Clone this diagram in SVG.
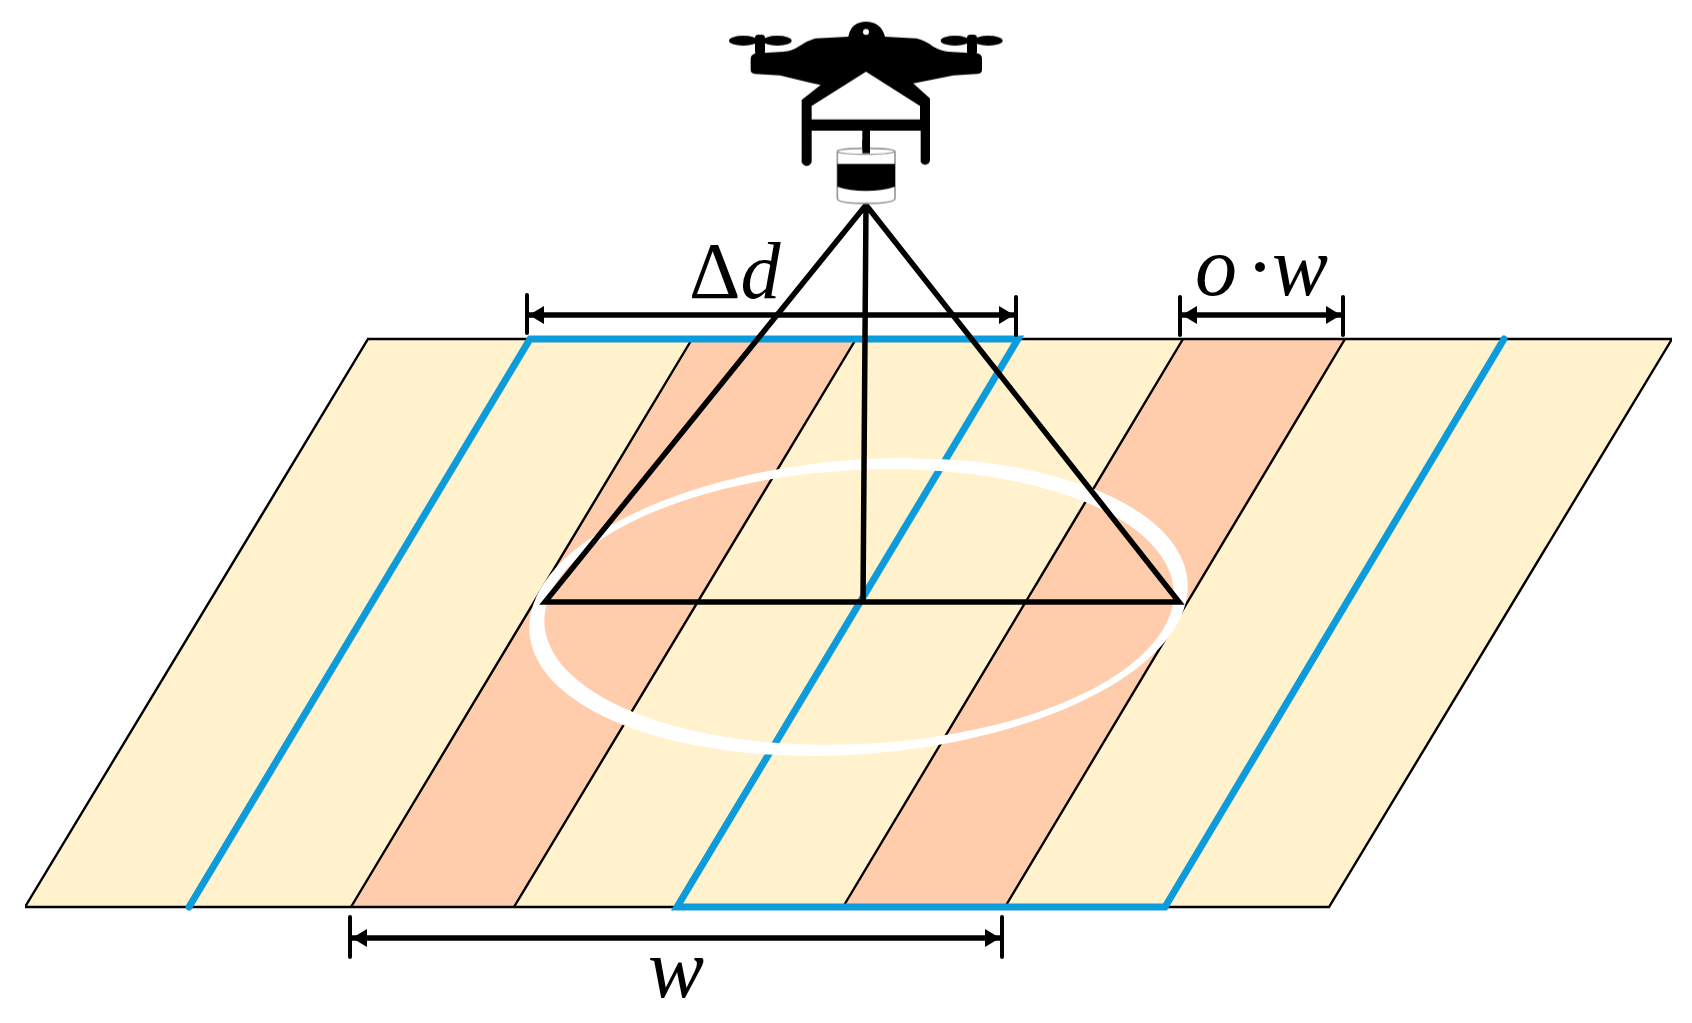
<svg xmlns="http://www.w3.org/2000/svg" width="1692" height="1023" viewBox="0 0 1692 1023">
<style>
.band{fill:#FFCDAC;stroke:none}
.thin{stroke:#000;stroke-width:2.4;fill:none}
.blue{stroke:#119CDB;stroke-width:7;fill:none;stroke-linecap:round;stroke-linejoin:miter}
.tri{stroke:#000;stroke-width:5.5;fill:none;stroke-linejoin:miter;stroke-linecap:round}
.dim{stroke:#000;stroke-width:5.5;fill:none}
.tick{stroke:#000;stroke-width:4;fill:none;stroke-linecap:round}
.lbl{font-family:"Liberation Serif","Times New Roman",serif;font-size:80px;fill:#000}
.big{font-size:84px}
</style>
<defs>
<marker id="a" markerUnits="userSpaceOnUse" markerWidth="16" markerHeight="20" refX="15" refY="10" orient="auto-start-reverse"><path d="M0 1L15 10L0 19Z" fill="#000"/></marker>
<filter id="soft" x="0" y="0" width="100%" height="100%"><feGaussianBlur stdDeviation="0.6"/></filter>
</defs>
<rect width="1692" height="1023" fill="#fff"/>
<g filter="url(#soft)">
<g id="ground">
<polygon points="368,339 1672,339 1329,907 25,907" fill="#FFF2CC"/>
<polygon class="band" points="692,339 856,339 514,907 351,907"/>
<polygon class="band" points="1183,339 1345,339 1005,907 843,907"/>
<path class="thin" d="M692 339L351 907M856 339L514 907M1183 339L843 907M1345 339L1005 907"/>
<polygon class="thin" points="368,339 1672,339 1329,907 25,907"/>
<path class="blue" d="M189 907L530 339H1018L677 907H1165L1504 339"/>
</g>
<g id="footprint">
<path fill="#fff" fill-rule="evenodd" d="M529.5 632.9A330 147 -4.5 1 1 1187.5 581.1A330 147 -4.5 1 1 529.5 632.9ZM544.4 623.5A315 137 -3 1 1 1173.6 590.5A315 137 -3 1 1 544.4 623.5Z"/>
</g>
<g id="beam">
<path class="tri" d="M866 205L545 602H1179ZM866 205L863 602"/>
</g>
<g id="drone" transform="translate(700 0) scale(.33333)">
<path fill="#000" d="M152 175Q152 165 165 160L250 155Q275 153 295 140Q320 122 345 115L445 110C450 80 470 65 498 65C526 65 548 80 555 110L650 115Q675 120 700 140Q725 153 745 155L835 160Q846 165 846 175V210Q846 222 830 222L760 226L640 250L690 295V478A15 15 0 0 1 662 486V392H510V450H487V392H335V486A15 15 0 0 1 305 478V300L362 255L330 248L240 226L165 222Q152 220 152 210Z"/>
<path fill="#fff" d="M498 215L660 318V358H335V318Z"/>
<circle cx="498" cy="96" r="9" fill="#fff"/>
<ellipse cx="130" cy="122" rx="43" ry="15" fill="#000"/><ellipse cx="232" cy="122" rx="43" ry="15" fill="#000"/>
<ellipse cx="765" cy="122" rx="43" ry="15" fill="#000"/><ellipse cx="865" cy="122" rx="43" ry="15" fill="#000"/>
<rect x="165" y="104" width="30" height="60" rx="10" fill="#000"/><rect x="801" y="104" width="30" height="60" rx="10" fill="#000"/>
<path fill="#fff" stroke="#999" stroke-width="5" d="M412 455Q412 445 498 445Q585 445 585 455V595Q585 610 498 610Q412 610 412 595Z"/>
<path fill="none" stroke="#999" stroke-width="4" d="M412 455Q430 463 498 463Q565 463 585 455"/>
<path fill="#000" d="M412 492H585V560Q545 573 498 573Q450 573 412 560Z"/>
<rect x="487" y="420" width="23" height="40" fill="#000"/>
</g>
<g id="dimensions">
<path class="tick" d="M527 295V333M1016 297V335M1180 297V335M1343 297V335M350 917V957M1002 917V957"/>
<path class="dim" marker-start="url(#a)" marker-end="url(#a)" d="M529 315H1014"/>
<path class="dim" marker-start="url(#a)" marker-end="url(#a)" d="M1182 315H1341"/>
<path class="dim" marker-start="url(#a)" marker-end="url(#a)" d="M352 938H1000"/>
</g>
<g id="labels">
<text class="lbl" x="689" y="298">Δ<tspan font-style="italic">d</tspan></text>
<text class="lbl big" y="295"><tspan x="1195" font-style="italic">o</tspan><tspan x="1246">·</tspan><tspan x="1272" font-style="italic">w</tspan></text>
<text class="lbl big" x="648" y="997" font-style="italic">w</text>
</g>
</g>
</svg>
